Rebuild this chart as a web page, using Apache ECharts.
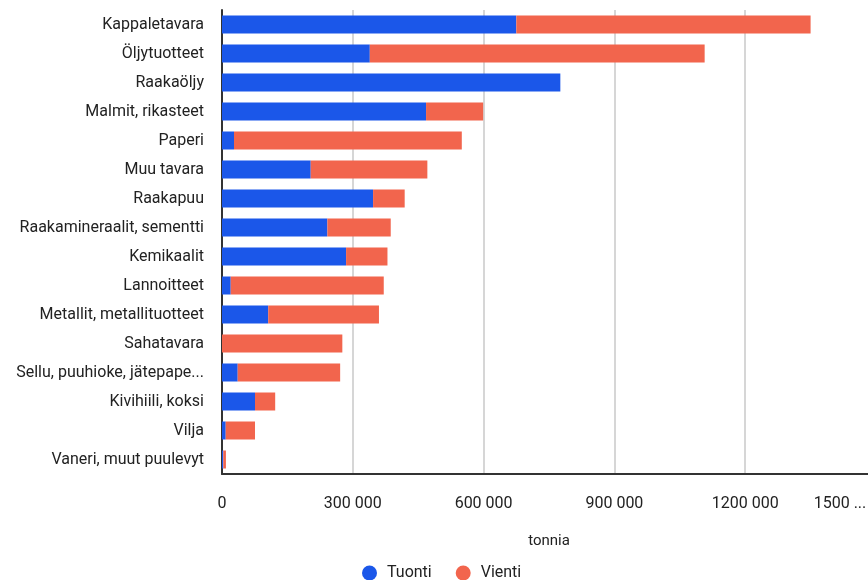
<!DOCTYPE html>
<html>
<head>
<meta charset="utf-8">
<title>Tuonti ja vienti tavaralajeittain</title>
<script src="https://cdn.jsdelivr.net/npm/echarts@6/dist/echarts.min.js"></script>
<style>
  html, body { margin: 0; padding: 0; background: #fff; }
  #chart { width: 868px; height: 580px; }
</style>
</head>
<body>
<div id="chart"></div>
<script>
// Tavaralajit ylhäältä alas
const categories = [
  'Kappaletavara',
  'Öljytuotteet',
  'Raakaöljy',
  'Malmit, rikasteet',
  'Paperi',
  'Muu tavara',
  'Raakapuu',
  'Raakamineraalit, sementti',
  'Kemikaalit',
  'Lannoitteet',
  'Metallit, metallituotteet',
  'Sahatavara',
  'Sellu, puuhioke, jätepaperi',
  'Kivihiili, koksi',
  'Vilja',
  'Vaneri, muut puulevyt'
];

// Tonnia
const tuonti = [675000, 339000, 776000, 468000, 27500, 203500, 346500, 241700, 284600, 20000, 106000, 0, 36000, 75700, 8500, 3000];
const vienti = [675000, 768000, 0, 131000, 522500, 267500, 72500, 145300, 94900, 351000, 254000, 276000, 235000, 46300, 67200, 6000];

const xTicks = [0, 300000, 600000, 900000, 1200000, 1500000];
const xTickLabels = ['0', '300 000', '600 000', '900 000', '1200 000', '1500 ...'];

const seriesNames = ['Tuonti', 'Vienti'];
const colors = ['#1b57e9', '#f2654d'];

// Pitkät luokkanimet lyhennetään
const maxLabelChars = 25;

const chart = echarts.init(document.getElementById('chart'), null, { renderer: 'canvas' });

const font = 'Roboto, "Noto Sans", sans-serif';

chart.setOption({
  animation: false,
  color: colors,
  textStyle: { fontFamily: font },
  grid: {
    left: 222,
    width: 654,
    top: 10,
    bottom: 106,
    containLabel: false,
    outerBoundsMode: 'none'
  },
  legend: {
    data: seriesNames,
    left: 357,
    top: 560,
    icon: 'circle',
    itemWidth: 15,
    itemHeight: 15,
    itemGap: 24,
    textStyle: { fontSize: 16, color: '#222', fontFamily: font, padding: [0, 0, 0, 5] }
  },
  xAxis: {
    type: 'value',
    min: xTicks[0],
    max: xTicks[xTicks.length - 1],
    interval: xTicks[1] - xTicks[0],
    name: 'tonnia',
    nameLocation: 'middle',
    nameGap: 60,
    nameTextStyle: { fontSize: 15, color: '#222', fontFamily: font },
    axisLine: { show: true, lineStyle: { color: '#333', width: 2 } },
    axisTick: { show: false },
    splitLine: { show: true, lineStyle: { color: '#c8c8c8', width: 1.5 } },
    axisLabel: {
      fontSize: 16,
      color: '#222',
      margin: 22,
      formatter: function (v) {
        const i = xTicks.indexOf(v);
        const t = i >= 0 ? xTickLabels[i] : String(v);
        return i === xTicks.length - 1 ? '{last|' + t + '}' : t;
      },
      rich: {
        last: { fontSize: 16, color: '#222', fontFamily: font, padding: [0, 72, 0, 0] }
      }
    }
  },
  yAxis: {
    type: 'category',
    data: categories,
    inverse: true,
    axisLine: { show: true, lineStyle: { color: '#333', width: 2 } },
    axisTick: { show: false },
    splitLine: { show: false },
    axisLabel: {
      fontSize: 16,
      color: '#222',
      margin: 18,
      formatter: function (name) {
        return name.length > maxLabelChars ? name.slice(0, maxLabelChars) + '...' : name;
      }
    }
  },
  series: [
    {
      name: seriesNames[0],
      type: 'bar',
      stack: 'total',
      data: tuonti,
      barWidth: 18,
      itemStyle: { color: colors[0] }
    },
    {
      name: seriesNames[1],
      type: 'bar',
      stack: 'total',
      data: vienti,
      barWidth: 18,
      itemStyle: { color: colors[1] }
    }
  ]
});
</script>
</body>
</html>
